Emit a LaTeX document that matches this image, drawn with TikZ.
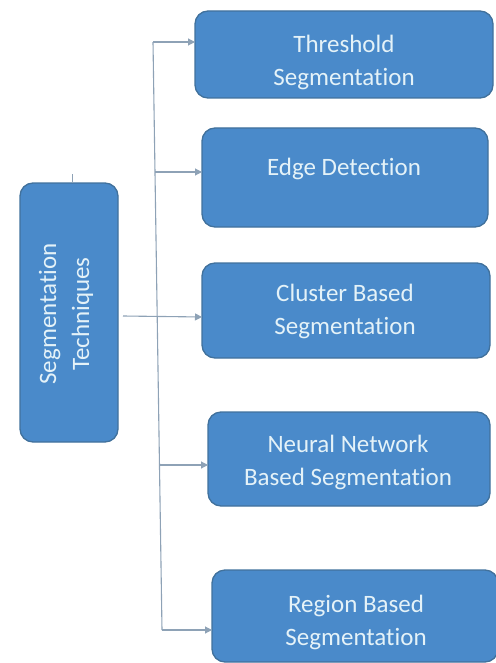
\documentclass[tikz,border=0pt]{standalone}
\usepackage{fontspec}
\setmainfont[Ligatures=NoCommon]{Carlito}
\usetikzlibrary{arrows.meta}
\definecolor{boxfill}{HTML}{4A8ACA}
\definecolor{boxedge}{HTML}{41719C}
\definecolor{boxtext}{HTML}{E4F2F8}
\definecolor{linkcol}{HTML}{8EA2B6}
\tikzset{
  px/.style={x=1pt,y=-1pt},
  techbox/.style={draw=boxedge,line width=1.3pt,fill=boxfill,rounded corners=13pt},
  techlabel/.style={text=boxtext,align=center,font=\fontsize{25}{33}\selectfont,inner sep=0pt},
  link/.style={draw=linkcol,line width=1.1pt,-{Triangle[length=7pt,width=7pt]}},
  trunk/.style={draw=linkcol,line width=1.1pt}
}
\begin{document}
\begin{tikzpicture}[px]
\useasboundingbox (0,0) rectangle (495,663);

% root box
\draw[techbox] (20,183) rectangle (118,442);
\node[techlabel,rotate=90] (root) at (66,314) {Segmentation\\Techniques};
\coordinate (rootR) at (123,316);
\coordinate (rootT) at (72,183);
\coordinate (tick) at (72,174);
\draw[trunk,line width=0.8pt] (rootT) -- (tick);

% technique boxes
\draw[techbox] (195,11) rectangle (493,98);
\node[techlabel] (thr) at (344,62) {Threshold\\Segmentation};
\draw[techbox] (202,128) rectangle (488,227);
\node[techlabel] (edge) at (344,169) {Edge Detection};
\draw[techbox] (202,263) rectangle (490,358);
\node[techlabel] (clu) at (345,311) {Cluster Based\\Segmentation};
\draw[techbox] (208,412) rectangle (490,506);
\node[techlabel] (nn) at (348,462) {Neural Network\\Based Segmentation};
\draw[techbox] (212,570) rectangle (498,662);
\node[techlabel] (reg) at (356,622) {Region Based\\Segmentation};

% entry points on the left edges of the boxes
\coordinate (thrL) at (195,42);
\coordinate (edgeL) at (202,172);
\coordinate (cluL) at (202,317);
\coordinate (nnL) at (208,465);
\coordinate (regL) at (212,630);

% trunk line and branches
\coordinate (t0) at (153,42);
\coordinate (t1) at (155,172);
\coordinate (t3) at (159.5,465);
\coordinate (t4) at (162,630);
\draw[trunk] (t0) -- (t4);
\draw[link] (t0) -- (thrL);
\draw[link] (t1) -- (edgeL);
\draw[link] (rootR) -- (cluL);
\draw[link] (t3) -- (nnL);
\draw[link] (t4) -- (regL);
\end{tikzpicture}
\end{document}
